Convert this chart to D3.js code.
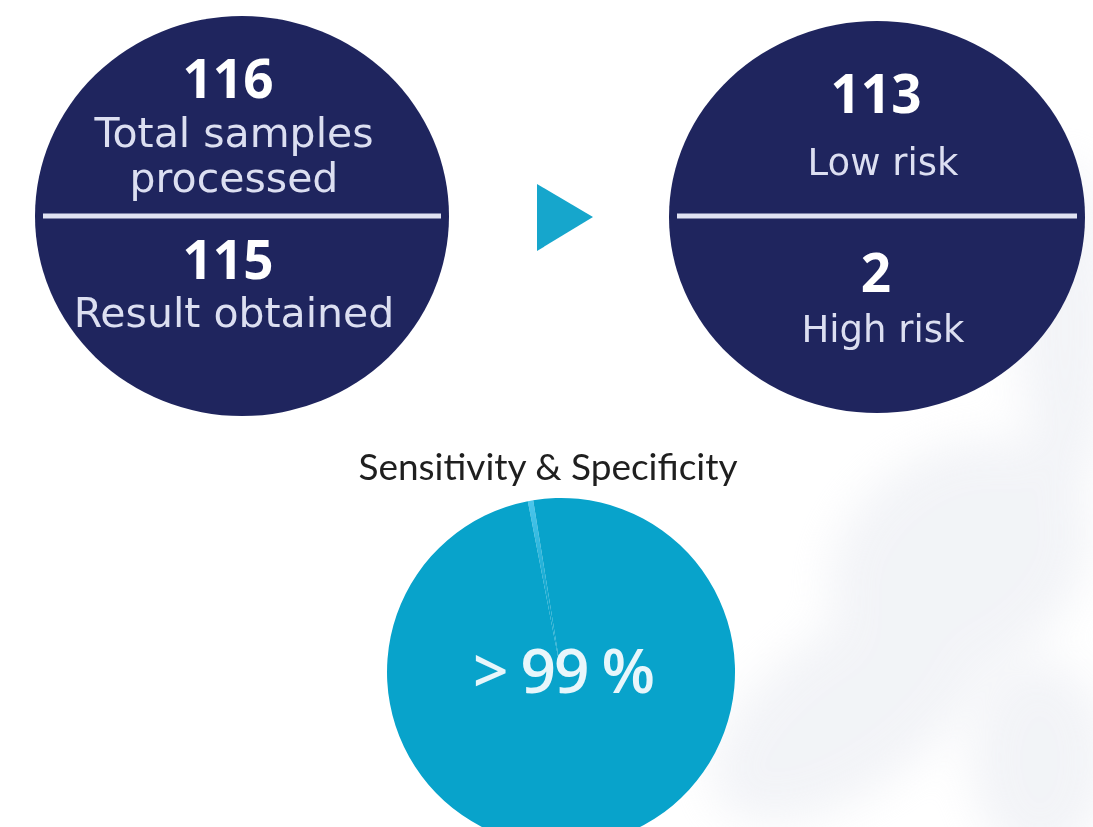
<!DOCTYPE html>
<html>
<head>
<meta charset="utf-8">
<script src="https://cdn.jsdelivr.net/npm/d3@7"></script>
<style>
  html, body { margin: 0; padding: 0; background: #ffffff; }
  svg { display: block; }
</style>
</head>
<body>
<div id="chart"></div>
<script>
// ---------- data ----------
const leftValues = [116, 115];
const leftLabels = [["Total samples", "processed"], ["Result obtained"]];
const rightValues = [113, 2];
const rightLabels = [["Low risk"], ["High risk"]];
const titleText = "Sensitivity & Specificity";
const pieCategories = ["Discordant", "Concordant"];
const pieValues = [0.5, 99.5];
const pieLabel = "> 99 %";

// ---------- layout ----------
const W = 1093, H = 827;
const navy = "#1f255e";
const teal = "#08a3cb";
const tealLight = "#4cc6ec";

const svg = d3.select("#chart").append("svg")
  .attr("width", W).attr("height", H);

const defs = svg.append("defs");
// faint background watermark
defs.append("filter").attr("id", "blur").attr("x", "-50%").attr("y", "-50%").attr("width", "200%").attr("height", "200%")
  .append("feGaussianBlur").attr("stdDeviation", 22);
const bg = svg.append("g").attr("filter", "url(#blur)").attr("opacity", 0.45);
const blobs = [
  {cx: 1065, cy: 330, rx: 45, ry: 170, r: 0},
  {cx: 960, cy: 560, rx: 140, ry: 110, r: -35},
  {cx: 850, cy: 710, rx: 160, ry: 80, r: -35},
  {cx: 1040, cy: 760, rx: 70, ry: 100, r: 0}
];
bg.selectAll("ellipse").data(blobs).join("ellipse")
  .attr("cx", d => d.cx).attr("cy", d => d.cy)
  .attr("rx", d => d.rx).attr("ry", d => d.ry)
  .attr("transform", d => `rotate(${d.r},${d.cx},${d.cy})`)
  .attr("fill", "#e3e6ee");

// ---------- info circles ----------
const lineY = 216;
const circleDefs = [
  {cx: 242, cy: 216, rx: 207, ry: 200, nx: 228, lx: 234, labSize: 41,
   values: leftValues, labels: leftLabels,
   numY: [98, 279], labY: [[147, 192], [327]]},
  {cx: 877, cy: 217, rx: 208, ry: 196, nx: 876, lx: 883, labSize: 37,
   values: rightValues, labels: rightLabels,
   numY: [113, 292], labY: [[175], [342]]}
];

circleDefs.forEach(c => {
  const g = svg.append("g");
  g.append("ellipse").attr("cx", c.cx).attr("cy", c.cy)
    .attr("rx", c.rx).attr("ry", c.ry).attr("fill", navy);
  const halfChord = c.rx * Math.sqrt(1 - Math.pow((lineY - c.cy) / c.ry, 2)) - 8;
  g.append("line")
    .attr("x1", c.cx - halfChord).attr("x2", c.cx + halfChord)
    .attr("y1", lineY).attr("y2", lineY)
    .attr("stroke", "#e0e3f3").attr("stroke-width", 5);
  c.values.forEach((v, i) => {
    g.append("text").attr("x", c.nx).attr("y", c.numY[i])
      .attr("text-anchor", "middle")
      .attr("font-family", "'Open Sans', sans-serif")
      .attr("font-weight", 700).attr("font-size", 53)
      .attr("fill", "#ffffff").text(v);
    c.labels[i].forEach((t, j) => {
      g.append("text").attr("x", c.lx).attr("y", c.labY[i][j])
        .attr("text-anchor", "middle")
        .attr("font-family", "'DejaVu Sans', sans-serif")
        .attr("font-weight", 400).attr("font-size", c.labSize)
        .attr("fill", "#dcdff1").text(t);
    });
  });
});

// arrow triangle
svg.append("path")
  .attr("d", d3.line()([[537, 184], [593, 217], [537, 251]]) + "Z")
  .attr("fill", "#16a6cc");

// title
svg.append("text").attr("x", 548).attr("y", 480)
  .attr("text-anchor", "middle")
  .attr("font-family", "'Lato', 'Open Sans', sans-serif")
  .attr("font-size", 37).attr("fill", "#1f1f1f")
  .text(titleText);

// ---------- pie ----------
const pieCx = 561, pieCy = 672, pieR = 174;
const grad = defs.append("radialGradient").attr("id", "sliceGrad")
  .attr("gradientUnits", "userSpaceOnUse")
  .attr("cx", 0).attr("cy", 0).attr("r", pieR);
grad.append("stop").attr("offset", "0%").attr("stop-color", teal);
grad.append("stop").attr("offset", "35%").attr("stop-color", teal);
grad.append("stop").attr("offset", "100%").attr("stop-color", tealLight);

const startDeg = -11;
const pie = d3.pie().sort(null)
  .startAngle(startDeg * Math.PI / 180)
  .endAngle(startDeg * Math.PI / 180 + 2 * Math.PI);
const arc = d3.arc().innerRadius(0).outerRadius(pieR);
const color = d3.scaleOrdinal().domain(pieCategories).range(["url(#sliceGrad)", teal]);
const arcs = pie(pieValues);
svg.append("g").attr("transform", `translate(${pieCx},${pieCy})`)
  .selectAll("path").data(arcs).join("path")
  .attr("d", arc)
  .attr("fill", (d, i) => color(pieCategories[i]));

svg.append("text").attr("x", 563).attr("y", 693)
  .attr("text-anchor", "middle")
  .attr("font-family", "'Open Sans', sans-serif")
  .attr("font-weight", 600).attr("font-size", 62)
  .attr("letter-spacing", -2)
  .attr("fill", "#e8f6fb").text(pieLabel);
</script>
</body>
</html>
